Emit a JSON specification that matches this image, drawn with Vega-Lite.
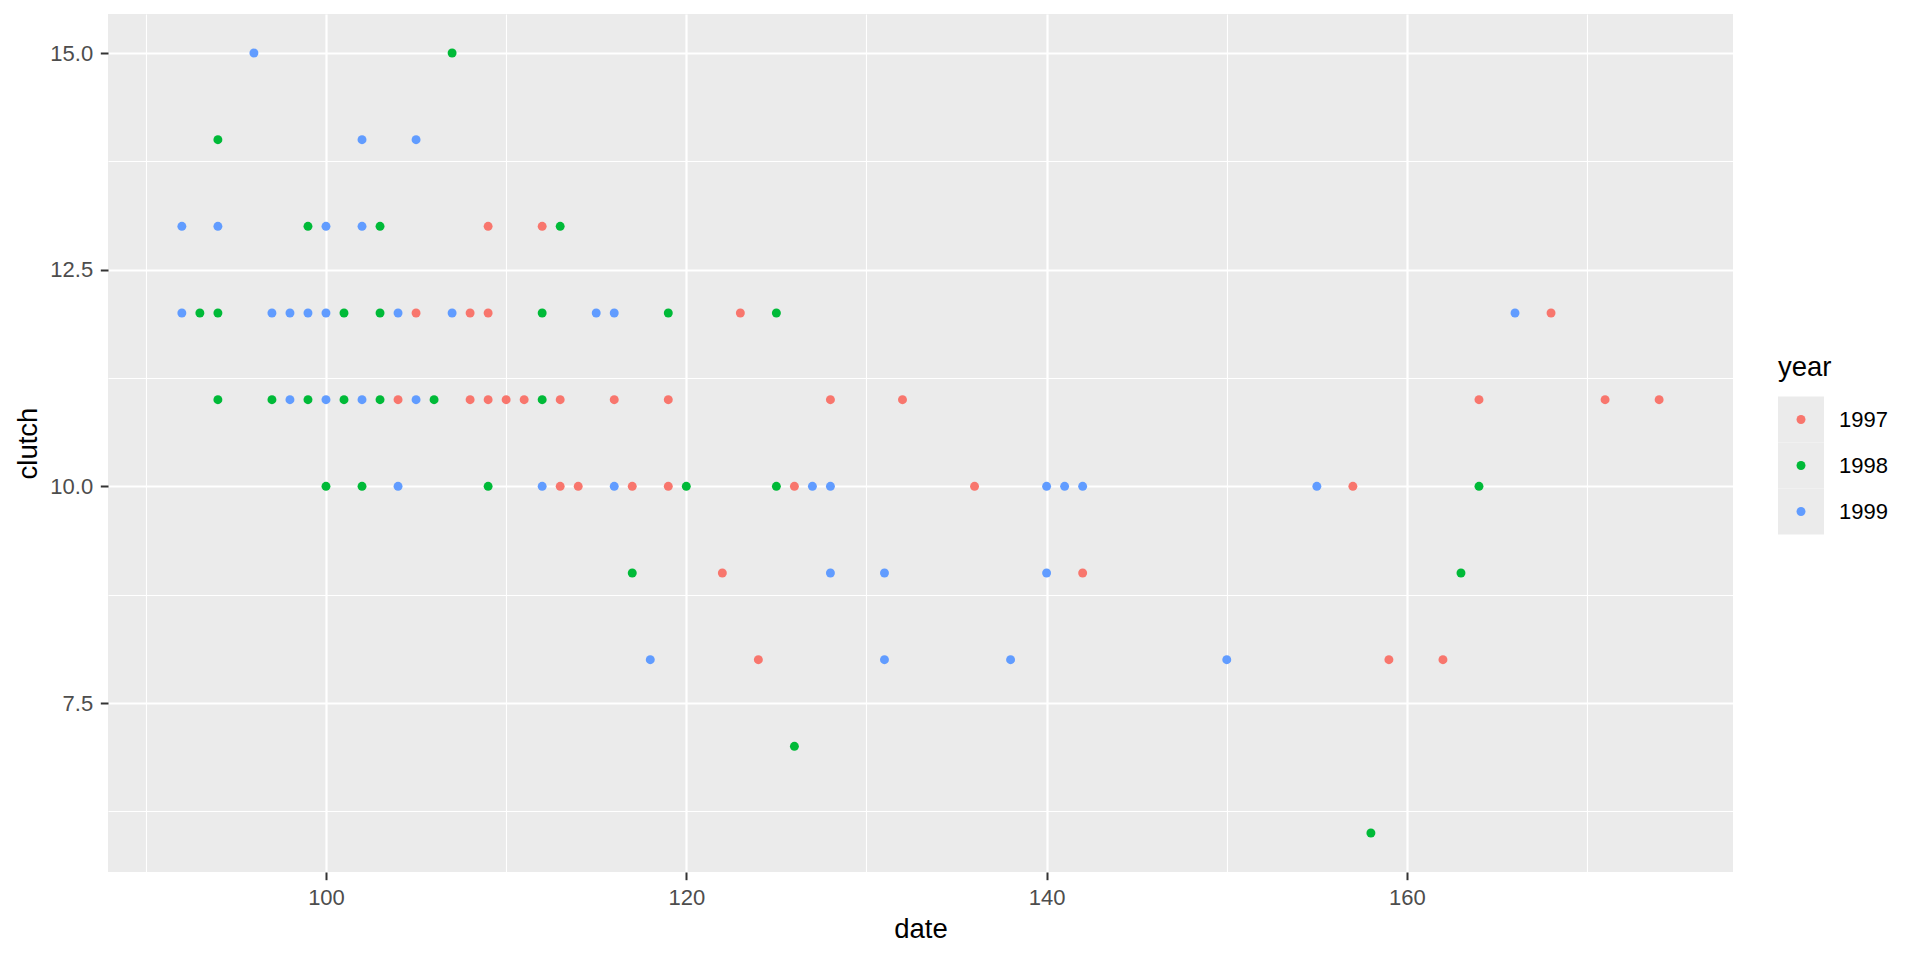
{
  "$schema": "https://vega.github.io/schema/vega-lite/v6.json",
  "width": 1625,
  "height": 858,
  "autosize": "none",
  "padding": {"left": 108, "top": 14, "right": 187, "bottom": 88},
  "background": "white",
  "config": {
    "font": "Liberation Sans",
    "view": {"fill": "#EBEBEB", "stroke": null}
  },
  "data": {
    "values": [
      {"date": 109, "clutch": 13, "year": "1997"},
      {"date": 112, "clutch": 13, "year": "1997"},
      {"date": 105, "clutch": 12, "year": "1997"},
      {"date": 108, "clutch": 12, "year": "1997"},
      {"date": 109, "clutch": 12, "year": "1997"},
      {"date": 123, "clutch": 12, "year": "1997"},
      {"date": 168, "clutch": 12, "year": "1997"},
      {"date": 104, "clutch": 11, "year": "1997"},
      {"date": 108, "clutch": 11, "year": "1997"},
      {"date": 109, "clutch": 11, "year": "1997"},
      {"date": 110, "clutch": 11, "year": "1997"},
      {"date": 111, "clutch": 11, "year": "1997"},
      {"date": 113, "clutch": 11, "year": "1997"},
      {"date": 116, "clutch": 11, "year": "1997"},
      {"date": 119, "clutch": 11, "year": "1997"},
      {"date": 128, "clutch": 11, "year": "1997"},
      {"date": 132, "clutch": 11, "year": "1997"},
      {"date": 164, "clutch": 11, "year": "1997"},
      {"date": 171, "clutch": 11, "year": "1997"},
      {"date": 174, "clutch": 11, "year": "1997"},
      {"date": 113, "clutch": 10, "year": "1997"},
      {"date": 114, "clutch": 10, "year": "1997"},
      {"date": 117, "clutch": 10, "year": "1997"},
      {"date": 119, "clutch": 10, "year": "1997"},
      {"date": 126, "clutch": 10, "year": "1997"},
      {"date": 136, "clutch": 10, "year": "1997"},
      {"date": 157, "clutch": 10, "year": "1997"},
      {"date": 122, "clutch": 9, "year": "1997"},
      {"date": 142, "clutch": 9, "year": "1997"},
      {"date": 124, "clutch": 8, "year": "1997"},
      {"date": 159, "clutch": 8, "year": "1997"},
      {"date": 162, "clutch": 8, "year": "1997"},
      {"date": 107, "clutch": 15, "year": "1998"},
      {"date": 94, "clutch": 14, "year": "1998"},
      {"date": 99, "clutch": 13, "year": "1998"},
      {"date": 103, "clutch": 13, "year": "1998"},
      {"date": 113, "clutch": 13, "year": "1998"},
      {"date": 93, "clutch": 12, "year": "1998"},
      {"date": 94, "clutch": 12, "year": "1998"},
      {"date": 101, "clutch": 12, "year": "1998"},
      {"date": 103, "clutch": 12, "year": "1998"},
      {"date": 112, "clutch": 12, "year": "1998"},
      {"date": 119, "clutch": 12, "year": "1998"},
      {"date": 125, "clutch": 12, "year": "1998"},
      {"date": 94, "clutch": 11, "year": "1998"},
      {"date": 97, "clutch": 11, "year": "1998"},
      {"date": 99, "clutch": 11, "year": "1998"},
      {"date": 101, "clutch": 11, "year": "1998"},
      {"date": 103, "clutch": 11, "year": "1998"},
      {"date": 106, "clutch": 11, "year": "1998"},
      {"date": 112, "clutch": 11, "year": "1998"},
      {"date": 100, "clutch": 10, "year": "1998"},
      {"date": 102, "clutch": 10, "year": "1998"},
      {"date": 109, "clutch": 10, "year": "1998"},
      {"date": 120, "clutch": 10, "year": "1998"},
      {"date": 125, "clutch": 10, "year": "1998"},
      {"date": 164, "clutch": 10, "year": "1998"},
      {"date": 117, "clutch": 9, "year": "1998"},
      {"date": 163, "clutch": 9, "year": "1998"},
      {"date": 126, "clutch": 7, "year": "1998"},
      {"date": 158, "clutch": 6, "year": "1998"},
      {"date": 96, "clutch": 15, "year": "1999"},
      {"date": 102, "clutch": 14, "year": "1999"},
      {"date": 105, "clutch": 14, "year": "1999"},
      {"date": 92, "clutch": 13, "year": "1999"},
      {"date": 94, "clutch": 13, "year": "1999"},
      {"date": 100, "clutch": 13, "year": "1999"},
      {"date": 102, "clutch": 13, "year": "1999"},
      {"date": 92, "clutch": 12, "year": "1999"},
      {"date": 97, "clutch": 12, "year": "1999"},
      {"date": 98, "clutch": 12, "year": "1999"},
      {"date": 99, "clutch": 12, "year": "1999"},
      {"date": 100, "clutch": 12, "year": "1999"},
      {"date": 104, "clutch": 12, "year": "1999"},
      {"date": 107, "clutch": 12, "year": "1999"},
      {"date": 115, "clutch": 12, "year": "1999"},
      {"date": 116, "clutch": 12, "year": "1999"},
      {"date": 166, "clutch": 12, "year": "1999"},
      {"date": 98, "clutch": 11, "year": "1999"},
      {"date": 100, "clutch": 11, "year": "1999"},
      {"date": 102, "clutch": 11, "year": "1999"},
      {"date": 105, "clutch": 11, "year": "1999"},
      {"date": 104, "clutch": 10, "year": "1999"},
      {"date": 112, "clutch": 10, "year": "1999"},
      {"date": 116, "clutch": 10, "year": "1999"},
      {"date": 127, "clutch": 10, "year": "1999"},
      {"date": 128, "clutch": 10, "year": "1999"},
      {"date": 140, "clutch": 10, "year": "1999"},
      {"date": 141, "clutch": 10, "year": "1999"},
      {"date": 142, "clutch": 10, "year": "1999"},
      {"date": 155, "clutch": 10, "year": "1999"},
      {"date": 128, "clutch": 9, "year": "1999"},
      {"date": 131, "clutch": 9, "year": "1999"},
      {"date": 140, "clutch": 9, "year": "1999"},
      {"date": 118, "clutch": 8, "year": "1999"},
      {"date": 131, "clutch": 8, "year": "1999"},
      {"date": 138, "clutch": 8, "year": "1999"},
      {"date": 150, "clutch": 8, "year": "1999"}
    ]
  },
  "mark": {"type": "circle", "size": 80},
  "encoding": {
    "x": {
      "field": "date",
      "type": "quantitative",
      "scale": {"domain": [87.9, 178.1], "nice": false, "zero": false},
      "axis": {
        "title": "date",
        "values": [90, 100, 110, 120, 130, 140, 150, 160, 170],
        "domain": false,
        "grid": true,
        "gridColor": "white",
        "gridOpacity": 1,
        "gridWidth": {"condition": {"test": "datum.value % 20 == 0", "value": 2.2}, "value": 1.1},
        "tickColor": "#333333",
        "tickWidth": 2,
        "tickSize": 7.7,
        "tickOpacity": {"condition": {"test": "datum.value % 20 == 0", "value": 1}, "value": 0},
        "labelExpr": "datum.value % 20 == 0 ? datum.label : ''",
        "labelFontSize": 22,
        "labelColor": "#4D4D4D",
        "labelPadding": 8,
        "labelOverlap": false,
        "labelFlush": false,
        "titleFontSize": 27.5,
        "titleFontWeight": "normal",
        "titleColor": "black",
        "titlePadding": 7
      }
    },
    "y": {
      "field": "clutch",
      "type": "quantitative",
      "scale": {"domain": [5.55, 15.45], "nice": false, "zero": false},
      "axis": {
        "title": "clutch",
        "values": [6.25, 7.5, 8.75, 10, 11.25, 12.5, 13.75, 15],
        "domain": false,
        "grid": true,
        "gridColor": "white",
        "gridOpacity": 1,
        "gridWidth": {"condition": {"test": "datum.value % 2.5 == 0", "value": 2.2}, "value": 1.1},
        "tickColor": "#333333",
        "tickWidth": 2,
        "tickSize": 7.7,
        "tickOpacity": {"condition": {"test": "datum.value % 2.5 == 0", "value": 1}, "value": 0},
        "labelExpr": "datum.value % 2.5 == 0 ? format(datum.value, '.1f') : ''",
        "labelFontSize": 22,
        "labelColor": "#4D4D4D",
        "labelPadding": 7.6,
        "labelOverlap": false,
        "labelFlush": false,
        "titleFontSize": 27.5,
        "titleFontWeight": "normal",
        "titleColor": "black",
        "titlePadding": 7
      }
    },
    "color": {
      "field": "year",
      "type": "nominal",
      "scale": {"domain": ["1997", "1998", "1999"], "range": ["#F8766D", "#00BA38", "#619CFF"]},
      "legend": {
        "title": null,
        "orient": "none",
        "legendX": 1682,
        "legendY": 394.5,
        "zindex": 2,
        "padding": 0,
        "labelFontSize": 22,
        "labelColor": "black",
        "labelOffset": 27,
        "rowPadding": 24,
        "symbolType": "circle",
        "symbolSize": 80,
        "symbolStrokeWidth": 0,
        "symbolOpacity": 1
      }
    },
    "opacity": {
      "field": "year",
      "type": "nominal",
      "scale": {"type": "ordinal", "domain": ["1999", "1998", "1997"], "range": [1, 1, 1]},
      "legend": {
        "title": "year",
        "orient": "none",
        "legendX": 1670,
        "legendY": 340,
        "zindex": 1,
        "padding": 0,
        "titleFontSize": 27.5,
        "titleFontWeight": "normal",
        "titleColor": "black",
        "titlePadding": 15,
        "labelFontSize": 1,
        "labelOpacity": 0,
        "labelOffset": 0,
        "rowPadding": 0,
        "symbolType": "square",
        "symbolSize": 2116,
        "symbolStrokeWidth": 0,
        "symbolFillColor": "#EBEBEB"
      }
    }
  }
}
